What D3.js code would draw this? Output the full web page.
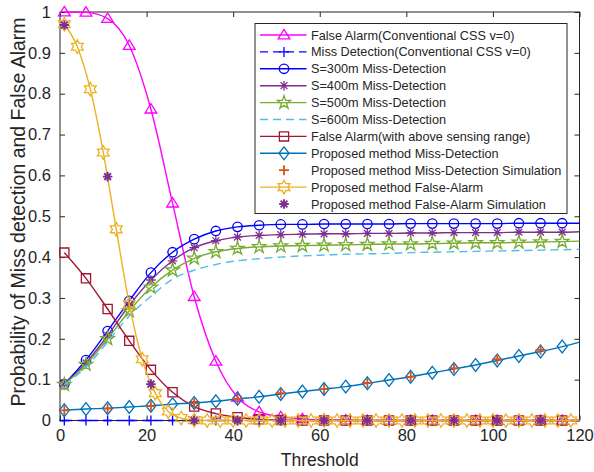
<!DOCTYPE html>
<html><head><meta charset="utf-8">
<script src="https://cdn.jsdelivr.net/npm/d3@7"></script>
<style>body{margin:0;background:#fff}svg{display:block}text{font-family:"Liberation Sans",Arial,Helvetica,sans-serif;fill:#262626}</style>
</head><body><svg id="c" width="594" height="472"></svg>
<script>
// ---- data ----
const x5 = [1,6,11,16,21,26,31,36,41,46,51,56,61,66,71,76,81,86,91,96,101,106,111,116,120];
const x3 = [1,4,7,10,13,16,19,22,25,28,31,34,37,40,43,46,49,52,55,58,61,64,67,70,73,76,79,82,85,88,91,94,97,100,103,106,109,112,115,118,120];
const x10 = [1,11,21,31,41,51,61,71,81,91,101,111];

const faConv   = [1.0,0.999,0.984,0.918,0.762,0.532,0.303,0.145,0.057,0.021,0.009,0.004,0.002,0.001,0,0,0,0,0,0,0,0,0,0,0];
const mdConv   = [0,0,0,0,0,0,0,0,0,0,0,0,0,0,0,0,0,0,0,0,0,0,0,0,0];
const md300    = [0.089,0.148,0.219,0.293,0.362,0.412,0.444,0.464,0.474,0.478,0.480,0.480,0.481,0.481,0.481,0.481,0.482,0.482,0.482,0.482,0.482,0.483,0.483,0.483,0.483];
const md400    = [0.089,0.141,0.208,0.282,0.344,0.391,0.423,0.440,0.449,0.453,0.455,0.456,0.457,0.457,0.458,0.458,0.459,0.459,0.460,0.460,0.460,0.461,0.461,0.461,0.462];
const md500    = [0.088,0.137,0.200,0.268,0.326,0.368,0.397,0.413,0.421,0.425,0.427,0.428,0.429,0.430,0.431,0.432,0.432,0.433,0.434,0.435,0.435,0.436,0.437,0.438,0.439];
const md600    = [0.087,0.131,0.192,0.256,0.304,0.346,0.368,0.382,0.391,0.396,0.400,0.403,0.405,0.407,0.408,0.409,0.411,0.412,0.413,0.414,0.415,0.416,0.417,0.418,0.419];
const faRange  = [0.411,0.348,0.273,0.195,0.124,0.069,0.034,0.017,0.008,0.003,0.001,0,0,0,0,0,0,0,0,0,0,0,0,0,0];
const mdProp   = [0.025,0.028,0.030,0.033,0.036,0.040,0.043,0.047,0.053,0.058,0.065,0.071,0.077,0.083,0.091,0.099,0.107,0.117,0.126,0.136,0.147,0.158,0.169,0.181,0.192];
const mdSim    = [0.025,0.029,0.035,0.042,0.053,0.067,0.077,0.092,0.107,0.128,0.150,0.173];
const faProp   = [0.970,0.915,0.811,0.656,0.468,0.285,0.150,0.067,0.022,0.006,0.001,0,0,0,0,0,0,0,0,0,0,0,0,0,0,0,0,0,0,0,0,0,0,0,0,0,0,0,0,0,0];
const faSim    = [0.968,0.597,0.089,0,0,0,0,0,0,0,0,0];

const xTicks = [0,20,40,60,80,100,120];
const yTicks = [0,0.1,0.2,0.3,0.4,0.5,0.6,0.7,0.8,0.9,1];
const yTickLabels = ["0","0.1","0.2","0.3","0.4","0.5","0.6","0.7","0.8","0.9","1"];

const series = [
  {name:"False Alarm(Conventional CSS v=0)", xs:x5, ys:faConv, color:"#FF00FF", marker:"tri", line:true},
  {name:"Miss Detection(Conventional CSS v=0)", xs:x5, ys:mdConv, color:"#0000FF", marker:"plus", line:true, dash:"8,5"},
  {name:"S=300m Miss-Detection", xs:x5, ys:md300, color:"#0000FF", marker:"circle", line:true},
  {name:"S=400m Miss-Detection", xs:x5, ys:md400, color:"#7E2F8E", marker:"ast", line:true},
  {name:"S=500m Miss-Detection", xs:x5, ys:md500, color:"#77AC30", marker:"pent", line:true},
  {name:"S=600m Miss-Detection", xs:x5, ys:md600, color:"#4DBEEE", marker:null, line:true, dash:"8,5"},
  {name:"False Alarm(with above sensing range)", xs:x5, ys:faRange, color:"#A2142F", marker:"square", line:true},
  {name:"Proposed method Miss-Detection", xs:x5, ys:mdProp, color:"#0072BD", marker:"diamond", line:true},
  {name:"Proposed method Miss-Detection Simulation", xs:x10, ys:mdSim, color:"#D95319", marker:"plus", line:false, mw:1.8},
  {name:"Proposed method False-Alarm", xs:x3, ys:faProp, color:"#EDB120", marker:"hex", line:true},
  {name:"Proposed method False-Alarm Simulation", xs:x10, ys:faSim, color:"#7E2F8E", marker:"ast", line:false, mw:1.9}
];

// ---- layout ----
const svg = d3.select("#c");
const L=60, R=579.5, T=12, B=420.5;
const x = d3.scaleLinear().domain([0,120]).range([L,R]);
const y = d3.scaleLinear().domain([0,1]).range([B,T]);

function markerPath(t){
  switch(t){
    case "tri": return "M0,-5.6L5.9,3.8L-5.9,3.8Z";
    case "plus": return "M-5,0H5M0,-5V5";
    case "circle": return "M4.7,0A4.7,4.7 0 1,1 -4.7,0A4.7,4.7 0 1,1 4.7,0Z";
    case "ast": { const r=4.8, d=r*0.7071; return `M-${r},0H${r}M0,-${r}V${r}M-${d},-${d}L${d},${d}M-${d},${d}L${d},-${d}`; }
    case "pent": { let p=[]; for(let i=0;i<10;i++){const a=-Math.PI/2+i*Math.PI/5; const rr=i%2?2.7:7; p.push([rr*Math.cos(a),rr*Math.sin(a)]);} return "M"+p.map(q=>q[0].toFixed(2)+","+q[1].toFixed(2)).join("L")+"Z"; }
    case "square": return "M-4.6,-4.6H4.6V4.6H-4.6Z";
    case "diamond": return "M0,-6.4L5,0L0,6.4L-5,0Z";
    case "hex": { let p=[]; for(let i=0;i<12;i++){const a=-Math.PI/2+i*Math.PI/6; const rr=i%2?3.9:6.8; p.push([rr*Math.cos(a),rr*Math.sin(a)]);} return "M"+p.map(q=>q[0].toFixed(2)+","+q[1].toFixed(2)).join("L")+"Z"; }
  }
  return "";
}

// axes box + ticks
const ax = svg.append("g");
ax.append("rect").attr("x",L).attr("y",T).attr("width",R-L).attr("height",B-T)
  .attr("fill","none").attr("stroke","#262626").attr("stroke-width",1);
const xAxisB = d3.axisBottom(x).tickValues(xTicks).tickSize(-5).tickPadding(9).tickFormat(d3.format("d"));
const xAxisT = d3.axisTop(x).tickValues(xTicks).tickSize(-5).tickFormat("");
const yAxisL = d3.axisLeft(y).tickValues(yTicks).tickSize(-5).tickPadding(9).tickFormat((d,i)=>yTickLabels[i]);
const yAxisR = d3.axisRight(y).tickValues(yTicks).tickSize(-5).tickFormat("");
function styleAxis(g){ g.select(".domain").remove(); g.selectAll("line").attr("stroke","#262626"); g.selectAll("text").attr("fill","#262626").style("font-size","16.5px").style("font-family",'"Liberation Sans",Arial,sans-serif'); }
svg.append("g").attr("transform",`translate(0,${B})`).call(xAxisB).call(styleAxis);
svg.append("g").attr("transform",`translate(0,${T})`).call(xAxisT).call(styleAxis);
svg.append("g").attr("transform",`translate(${L},0)`).call(yAxisL).call(styleAxis);
svg.append("g").attr("transform",`translate(${R},0)`).call(yAxisR).call(styleAxis);

// labels
svg.append("text").attr("x",(L+R)/2).attr("y",466).attr("text-anchor","middle").style("font-size","17.5px").text("Threshold");
svg.append("text").attr("transform","translate(25,212) rotate(-90)").attr("text-anchor","middle").style("font-size","19.5px").text("Probability of Miss detection and False Alarm");

// series
const lineGen = d3.line().x(d=>x(d[0])).y(d=>y(d[1])).curve(d3.curveMonotoneX);
series.forEach(s=>{
  const pts = s.xs.map((v,i)=>[v,s.ys[i]]);
  const g = svg.append("g");
  if(s.line){
    g.append("path").attr("d",lineGen(pts)).attr("fill","none").attr("stroke",s.color)
      .attr("stroke-width",1.4).attr("stroke-dasharray",s.dash||null);
  }
  if(s.marker){
    const mpts = s.line ? pts.filter(p=>p[0]!==120) : pts;
    g.selectAll("path.m").data(mpts).enter().append("path").attr("class","m")
      .attr("transform",d=>`translate(${x(d[0])},${y(d[1])})`)
      .attr("d",markerPath(s.marker)).attr("fill","none").attr("stroke",s.color).attr("stroke-width",s.mw||1.3);
  }
});

// legend
const lg = svg.append("g");
const LX=255, LY=23.5, LW=312, LH=190, rowH=16.9, row0=35;
lg.append("rect").attr("x",LX).attr("y",LY).attr("width",LW).attr("height",LH).attr("fill","#fff").attr("stroke","#262626").attr("stroke-width",1);
series.forEach((s,i)=>{
  const cy = row0 + i*rowH;
  if(s.line) lg.append("line").attr("x1",260).attr("x2",306.5).attr("y1",cy).attr("y2",cy)
    .attr("stroke",s.color).attr("stroke-width",1.4).attr("stroke-dasharray",s.dash||null);
  if(s.marker) lg.append("path").attr("transform",`translate(284,${cy})`).attr("d",markerPath(s.marker))
    .attr("fill","none").attr("stroke",s.color).attr("stroke-width",s.mw||1.3);
  lg.append("text").attr("x",311).attr("y",cy).attr("dy","0.36em").style("font-size","12.7px").text(s.name);
});
</script></body></html>
